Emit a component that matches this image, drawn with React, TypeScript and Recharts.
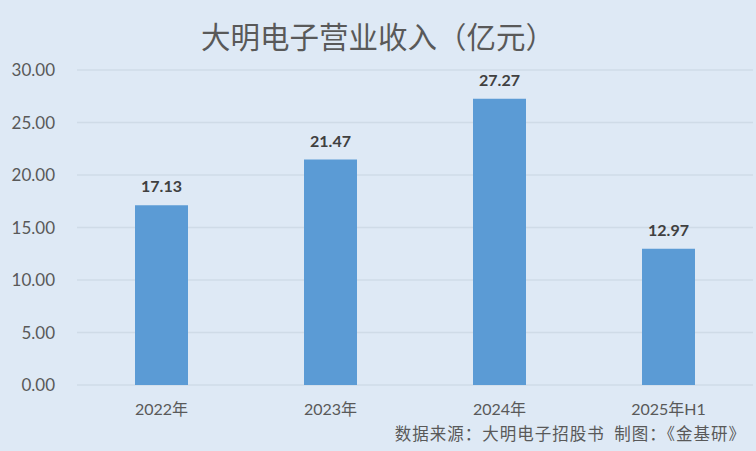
import React from "react";
import { BarChart, Bar, XAxis, YAxis, CartesianGrid, LabelList } from "recharts";

const categories = ["2022年", "2023年", "2024年", "2025年H1"];
const revenue = [17.13, 21.47, 27.27, 12.97];
const yTicks = [0, 5, 10, 15, 20, 25, 30];

const title = "大明电子营业收入（亿元）";
const source = "数据来源：大明电子招股书  制图：《金基研》";

const data = categories.map((name, i) => ({ name, value: revenue[i] }));

const axisFont = "Lato, 'Noto Sans CJK SC', sans-serif";

const App: React.FC = () => {
  return (
    <div
      style={{
        position: "absolute",
        left: 0,
        top: 0,
        width: 756,
        height: 451,
        background: "#dee9f5",
        overflow: "hidden",
      }}
    >
      <div
        style={{
          position: "absolute",
          left: 0,
          top: 15,
          width: 756,
          textAlign: "center",
          fontFamily: "'Noto Sans CJK SC', sans-serif",
          fontSize: 29.5,
          lineHeight: "40px",
          color: "#595959",
        }}
      >
        {title}
      </div>
      <BarChart
        width={756}
        height={451}
        data={data}
        margin={{ top: 70, right: 3, bottom: 36, left: 0 }}
      >
        <CartesianGrid vertical={false} stroke="#cfdbe7" strokeWidth={1.5} />
        <XAxis
          dataKey="name"
          height={30}
          axisLine={false}
          tickLine={false}
          tickSize={0}
          tickMargin={19}
          tick={{ fill: "#595959", fontSize: 16, fontFamily: axisFont }}
        />
        <YAxis
          width={77}
          domain={[0, 30]}
          ticks={yTicks}
          axisLine={false}
          tickLine={false}
          tickSize={0}
          tickMargin={22}
          tickFormatter={(v: number) => v.toFixed(2)}
          tick={{ fill: "#595959", fontSize: 17, fontFamily: axisFont }}
        />
        <Bar dataKey="value" fill="#5b9bd5" barSize={53} isAnimationActive={false}>
          <LabelList
            dataKey="value"
            position="top"
            offset={13}
            formatter={(v: number) => v.toFixed(2)}
            style={{ fill: "#404040", fontSize: 16, fontWeight: 700, fontFamily: axisFont }}
          />
        </Bar>
      </BarChart>
      <div
        style={{
          position: "absolute",
          right: 10,
          top: 422,
          fontFamily: "'Noto Sans CJK SC', sans-serif",
          fontSize: 16.5,
          letterSpacing: 1,
          lineHeight: "22px",
          color: "#595959",
          whiteSpace: "pre",
        }}
      >
        {source}
      </div>
    </div>
  );
};

export default App;
